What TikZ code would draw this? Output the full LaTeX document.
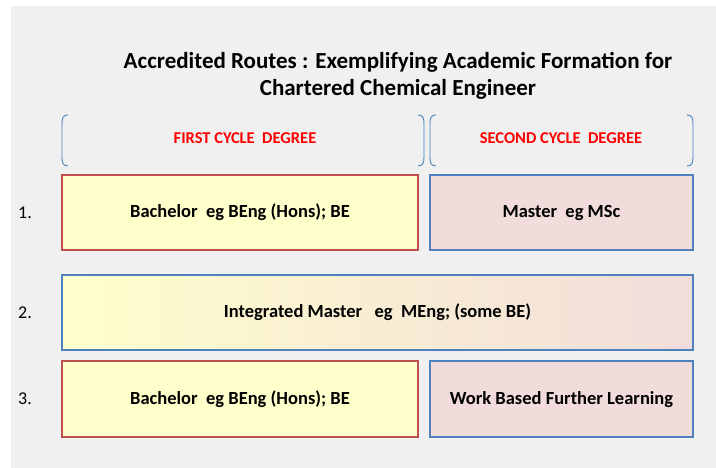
\documentclass[tikz,border=0pt]{standalone}
\usepackage{fontspec}
\setmainfont{Carlito}
\definecolor{bgray}{HTML}{F0F0F0}
\definecolor{firstfill}{HTML}{FFFFCC}
\definecolor{secondfill}{HTML}{F2DCDB}
\definecolor{redline}{HTML}{C0504D}
\definecolor{blueline}{HTML}{4F81BD}
\definecolor{degreered}{HTML}{FF0000}
\begin{document}
\begin{tikzpicture}[x=1pt, y=-1pt,
    firstbox/.style={draw=redline, fill=firstfill, line width=1.5pt, minimum height=75pt, text height=11pt, text depth=0pt, font=\fontsize{18.5}{22}\selectfont\bfseries},
    secondbox/.style={draw=blueline, fill=secondfill, line width=1.5pt, minimum height=75pt, text height=11pt, text depth=0pt, font=\fontsize{18.5}{22}\selectfont\bfseries},
    routenum/.style={font=\fontsize{18}{22}\selectfont},
    cyclelabel/.style={text=degreered, font=\fontsize{16.5}{20}\selectfont\bfseries},
    bracket/.style={draw=blueline, line width=0.9pt}]
  \useasboundingbox (0,0) rectangle (716,468);
  \fill[bgray] (11,6) rectangle (716,468);
  % title
  \node[align=center, font=\fontsize{23}{27}\selectfont\bfseries] (title) at (398,75.5) {Accredited Routes : Exemplifying Academic Formation for\\Chartered Chemical Engineer};
  % cycle brackets
  \draw[bracket] (68,115) .. controls (63,115) and (62,118) .. (62,124) -- (62,157) .. controls (62,163) and (63,166) .. (68,166);
  \draw[bracket] (418,115) .. controls (423,115) and (424,118) .. (424,124) -- (424,157) .. controls (424,163) and (423,166) .. (418,166);
  \draw[bracket] (436,115) .. controls (431,115) and (430,118) .. (430,124) -- (430,157) .. controls (430,163) and (431,166) .. (436,166);
  \draw[bracket] (687,115) .. controls (692,115) and (693,118) .. (693,124) -- (693,157) .. controls (693,163) and (692,166) .. (687,166);
  \node[cyclelabel] (first) at (245,138) {FIRST CYCLE\ \ DEGREE};
  \node[cyclelabel] (second) at (561,138) {SECOND CYCLE\ \ DEGREE};
  % route 1
  \node[routenum] (n1) at (25,212.5) {1.};
  \node[firstbox, minimum width=356pt] (bach1) at (240,212.5) {Bachelor\ \ eg BEng (Hons); BE};
  \node[secondbox, minimum width=263pt] (mast1) at (561.5,212.5) {Master\ \ eg MSc};
  % route 2
  \node[routenum] (n2) at (25,312.5) {2.};
  \node[secondbox, left color=firstfill, right color=secondfill, minimum width=631pt] (integ) at (377.5,312.5) {Integrated Master\ \ \ eg\ \ MEng; (some BE)};
  % route 3
  \node[routenum] (n3) at (25,399) {3.};
  \node[firstbox, minimum width=356pt, minimum height=76pt] (bach3) at (240,399) {Bachelor\ \ eg BEng (Hons); BE};
  \node[secondbox, minimum width=263pt, minimum height=76pt] (work) at (561.5,399) {Work Based Further Learning};
\end{tikzpicture}
\end{document}
